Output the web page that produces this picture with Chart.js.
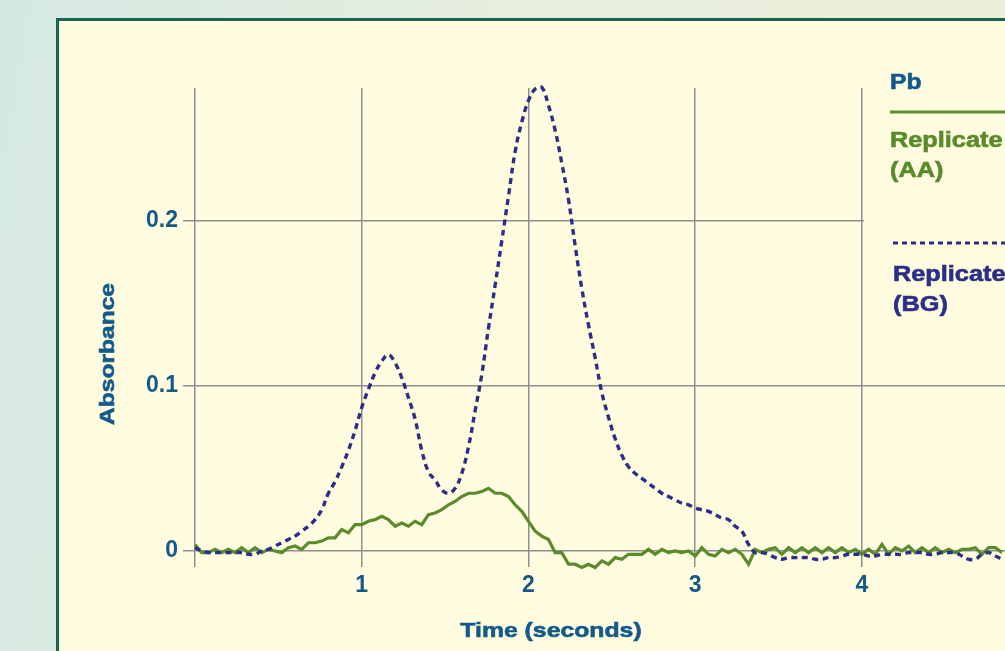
<!DOCTYPE html>
<html>
<head>
<meta charset="utf-8">
<script src="https://cdn.jsdelivr.net/npm/chart.js@4/dist/chart.umd.min.js"></script>
<style>
  html, body { margin: 0; padding: 0; width: 1005px; height: 651px; overflow: hidden; }
  body { background: linear-gradient(100deg, #d5e8e3 0%, #e6eedd 45%, #eeefda 100%); position: relative; }
  #frame { position: absolute; left: 56px; top: 18px; width: 1000px; height: 700px;
           border: 3px solid #1a6453; background: #fffcdf; }
  #chart { position: absolute; left: 0; top: 0; }
</style>
</head>
<body>
<div id="frame"></div>
<canvas id="chart" width="1005" height="651"></canvas>
<script>
// sampling instants (s)
var timeSec = [
  0, 0.04, 0.08, 0.12, 0.16, 0.2, 0.24, 0.28, 0.32, 0.36,
  0.4, 0.44, 0.48, 0.52, 0.56, 0.6, 0.64, 0.68, 0.72, 0.76,
  0.8, 0.84, 0.88, 0.92, 0.96, 1, 1.04, 1.08, 1.12, 1.16,
  1.2, 1.24, 1.28, 1.32, 1.36, 1.4, 1.44, 1.48, 1.52, 1.56,
  1.6, 1.64, 1.68, 1.72, 1.76, 1.8, 1.84, 1.88, 1.92, 1.96,
  2, 2.04, 2.08, 2.12, 2.16, 2.2, 2.24, 2.28, 2.32, 2.36,
  2.4, 2.44, 2.48, 2.52, 2.56, 2.6, 2.64, 2.68, 2.72, 2.76,
  2.8, 2.84, 2.88, 2.92, 2.96, 3, 3.04, 3.08, 3.12, 3.16,
  3.2, 3.24, 3.28, 3.32, 3.36, 3.4, 3.44, 3.48, 3.52, 3.56,
  3.6, 3.64, 3.68, 3.72, 3.76, 3.8, 3.84, 3.88, 3.92, 3.96,
  4, 4.04, 4.08, 4.12, 4.16, 4.2, 4.24, 4.28, 4.32, 4.36,
  4.4, 4.44, 4.48, 4.52, 4.56, 4.6, 4.64, 4.68, 4.72, 4.76,
  4.8, 4.84
];

// Replicate (AA) - green trace
var aaAbs = [
  0.004, -0.001, -0.001, 0.001, -0.001, 0.001, -0.001, 0.002, -0.001, 0.002,
  -0.001, 0.001, 0, -0.001, 0.002, 0.003, 0.001, 0.005, 0.005, 0.006,
  0.008, 0.008, 0.013, 0.011, 0.016, 0.016, 0.018, 0.019, 0.021, 0.019,
  0.015, 0.017, 0.015, 0.018, 0.016, 0.022, 0.023, 0.025, 0.028, 0.030,
  0.033, 0.035, 0.035, 0.036, 0.038, 0.035, 0.035, 0.033, 0.028, 0.024,
  0.018, 0.012, 0.009, 0.007, -0.001, -0.001, -0.008, -0.008, -0.010, -0.008,
  -0.010, -0.006, -0.008, -0.004, -0.005, -0.002, -0.002, -0.002, 0.001, -0.002,
  0.001, -0.001, 0, -0.001, 0, -0.003, 0.002, -0.002, -0.003, 0.001,
  -0.001, 0.001, -0.002, -0.008, 0.001, -0.001, 0.001, 0.002, -0.002, 0.002,
  -0.001, 0.002, -0.001, 0.002, -0.001, 0.002, -0.001, 0.002, -0.001, 0.001,
  -0.002, 0.001, -0.002, 0.004, -0.002, 0.002, 0, 0.003, -0.001, 0.002,
  -0.001, 0.002, -0.001, 0.001, -0.001, 0.001, 0.001, 0.002, -0.002, 0.002,
  0.002, -0.001
];

// Replicate (BG) - blue dashed trace
var bgAbs = [
  0.002, 0, -0.001, -0.001, -0.001, -0.001, -0.001, -0.001, -0.002, -0.002,
  0, 0.001, 0.003, 0.005, 0.007, 0.009, 0.012, 0.015, 0.019, 0.025,
  0.035, 0.042, 0.051, 0.061, 0.073, 0.087, 0.098, 0.108, 0.115, 0.119,
  0.114, 0.105, 0.093, 0.080, 0.061, 0.048, 0.043, 0.037, 0.035, 0.038,
  0.047, 0.063, 0.085, 0.107, 0.135, 0.161, 0.188, 0.215, 0.242, 0.260,
  0.273, 0.280, 0.281, 0.270, 0.255, 0.235, 0.213, 0.185, 0.159, 0.137,
  0.117, 0.096, 0.081, 0.068, 0.058, 0.051, 0.047, 0.044, 0.041, 0.038,
  0.035, 0.033, 0.031, 0.029, 0.028, 0.026, 0.025, 0.024, 0.022, 0.020,
  0.019, 0.015, 0.012, 0.004, -0.001, -0.001, -0.002, -0.004, -0.005, -0.004,
  -0.004, -0.004, -0.004, -0.005, -0.005, -0.004, -0.004, -0.003, -0.002, -0.002,
  -0.002, -0.003, -0.003, -0.002, -0.002, -0.002, -0.002, -0.001, -0.001, -0.001,
  -0.002, -0.002, -0.001, -0.001, -0.001, -0.003, -0.005, -0.005, -0.002, -0.001,
  -0.003, -0.005
];

var xTicks = [0, 1, 2, 3, 4];
var yTicks = [0, 0.1, 0.2];

var textBlue = '#135a8b';
var aaGreen = '#5b8b2c';
var bgBlue = '#2c2f88';
var gridGray = '#8f8f8f';
var boldFont = '"Liberation Sans", Arial, Helvetica, sans-serif';

function wideText(ctx, text, x, y, sx, rot) {
    ctx.save();
    ctx.translate(x, y);
    if (rot) ctx.rotate(rot);
    ctx.scale(sx, 1);
    ctx.fillText(text, 0, 0);
    ctx.strokeStyle = ctx.fillStyle;
    ctx.lineWidth = 0.6;
    ctx.strokeText(text, 0, 0);
    ctx.restore();
}

// blank box for the legend, then titles and legend text
var decorations = {
    id: 'decorations',
    beforeDatasetsDraw: function(chart) {
        var ctx = chart.ctx;
        ctx.save();
        ctx.fillStyle = '#fffcdf';
        ctx.fillRect(864, 50, 141, 290);
        ctx.restore();
    },
    afterDraw: function(chart) {
        var ctx = chart.ctx;
        ctx.save();
        ctx.font = 'bold 21px ' + boldFont;
        ctx.fillStyle = textBlue;
        ctx.textAlign = 'center';
        ctx.textBaseline = 'alphabetic';
        wideText(ctx, 'Time (seconds)', 551, 637, 1.18, 0);
        wideText(ctx, 'Absorbance', 114, 354, 1.17, -Math.PI / 2);

        ctx.textAlign = 'left';
        ctx.font = 'bold 22px ' + boldFont;
        wideText(ctx, 'Pb', 890, 89, 1.12, 0);

        ctx.strokeStyle = aaGreen;
        ctx.lineWidth = 3;
        ctx.beginPath();
        ctx.moveTo(890, 112);
        ctx.lineTo(1005, 112);
        ctx.stroke();
        ctx.fillStyle = aaGreen;
        wideText(ctx, 'Replicate', 890, 147, 1.15, 0);
        wideText(ctx, '(AA)', 890, 177, 1.15, 0);

        ctx.strokeStyle = bgBlue;
        ctx.lineWidth = 3;
        ctx.setLineDash([5, 4]);
        ctx.beginPath();
        ctx.moveTo(893, 243);
        ctx.lineTo(1005, 243);
        ctx.stroke();
        ctx.setLineDash([]);
        ctx.fillStyle = bgBlue;
        wideText(ctx, 'Replicate', 893, 281, 1.15, 0);
        wideText(ctx, '(BG)', 893, 311, 1.15, 0);
        ctx.restore();
    }
};

var ctx = document.getElementById('chart').getContext('2d');

var chart = new Chart(ctx, {
    type: 'line',
    data: {
        labels: timeSec,
        datasets: [{
            label: 'Replicate (BG)',
            data: bgAbs,
            borderColor: bgBlue,
            borderWidth: 3.4,
            borderDash: [6, 4.5],
            pointRadius: 0,
            tension: 0.4,
            fill: false,
            clip: false
        }, {
            label: 'Replicate (AA)',
            data: aaAbs,
            borderColor: aaGreen,
            borderWidth: 3.2,
            pointRadius: 0,
            tension: 0,
            fill: false,
            clip: false
        }]
    },
    options: {
        responsive: false,
        animation: false,
        devicePixelRatio: 1,
        layout: { padding: { top: 88, right: 0, left: 0, bottom: 0 } },
        plugins: {
            legend: { display: false },
            tooltip: { enabled: false }
        },
        scales: {
            x: {
                type: 'linear',
                min: 0,
                max: 4.858,
                afterBuildTicks: function(s) {
                    s.ticks = xTicks.map(function(v) { return { value: v }; });
                },
                afterFit: function(s) { s.height = 100; },
                grid: { color: gridGray, lineWidth: 1.5, tickLength: 16, drawTicks: true },
                border: { display: false },
                ticks: {
                    padding: 5,
                    color: textBlue,
                    font: { family: boldFont, size: 23, weight: 'bold' },
                    maxRotation: 0,
                    callback: function(v) { return v === 0 ? '' : String(v); }
                }
            },
            y: {
                min: 0,
                max: 0.2806,
                afterBuildTicks: function(s) {
                    s.ticks = yTicks.map(function(v) { return { value: v }; });
                },
                afterFit: function(s) { s.width = 195; },
                grid: { color: gridGray, lineWidth: 1.5, tickLength: 12, drawTicks: true },
                border: { display: false },
                ticks: {
                    padding: 5,
                    color: textBlue,
                    font: { family: boldFont, size: 23, weight: 'bold' },
                    callback: function(v) { return v === 0 ? '0' : v.toFixed(1); }
                }
            }
        }
    },
    plugins: [decorations]
});
</script>
</body>
</html>
